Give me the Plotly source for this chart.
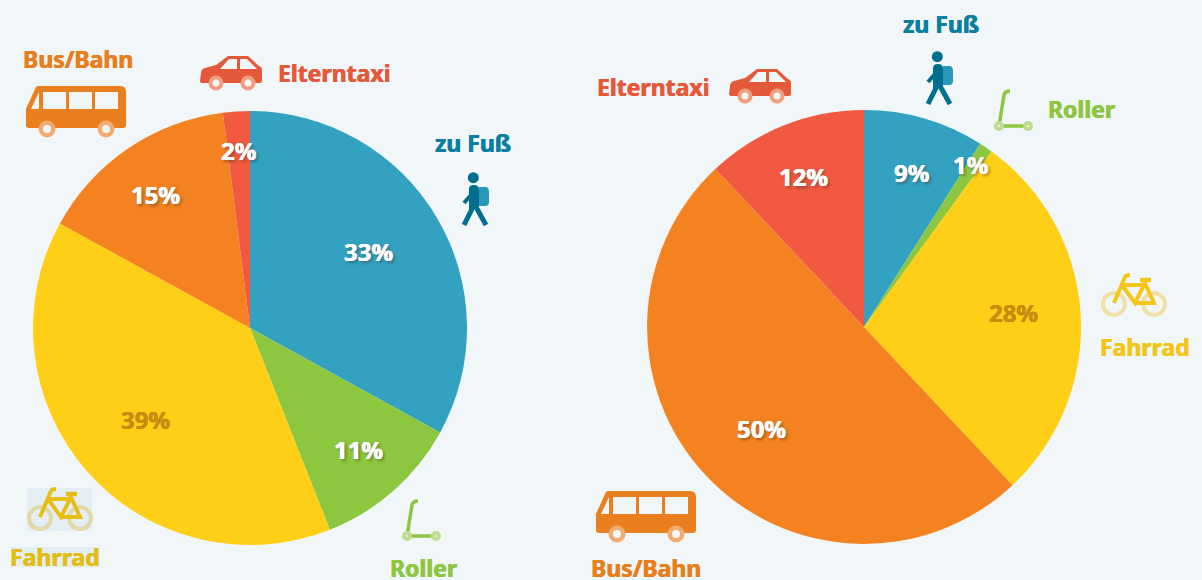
import re
import plotly.graph_objects as go

W, H = 1202, 580
BG = "#F1F6F9"
FONT = "Noto Sans"

categories = ["zu Fuß", "Roller", "Fahrrad", "Bus/Bahn", "Elterntaxi"]
values_left = [33, 11, 39, 15, 2]
values_right = [9, 1, 28, 50, 12]
slice_colors = ["#33A1C0", "#8DC73F", "#FFCE16", "#F58220", "#F15A40"]

PCT_WHITE = "#FFFFFF"
PCT_AMBER = "#C98A10"


def px(x):
    return x / W


def py(y):
    return 1 - y / H


def path(d, ox=0, oy=0):
    toks = re.findall(r"[MLQCZ]|-?\d+\.?\d*", d)
    out, is_x = [], True
    for t in toks:
        if t.isalpha():
            out.append(t)
            is_x = True
        else:
            v = float(t)
            out.append(f"{px(v + ox):.5f}" if is_x else f"{py(v + oy):.5f}")
            is_x = not is_x
    return " ".join(out)


shapes = []


def fill_path(d, color, ox=0, oy=0):
    shapes.append(dict(type="path", xref="paper", yref="paper", path=path(d, ox, oy),
                       fillcolor=color, line=dict(width=0), layer="above"))


def stroke_path(d, color, width, ox=0, oy=0):
    shapes.append(dict(type="path", xref="paper", yref="paper", path=path(d, ox, oy),
                       line=dict(color=color, width=width), fillcolor="rgba(0,0,0,0)", layer="above"))


def circle(cx, cy, r, fill=None, line=None, width=0):
    shapes.append(dict(type="circle", xref="paper", yref="paper",
                       x0=px(cx - r), x1=px(cx + r), y0=py(cy + r), y1=py(cy - r),
                       fillcolor=fill or "rgba(0,0,0,0)",
                       line=dict(color=line or "rgba(0,0,0,0)", width=width), layer="above"))


def rect(x0, y0, x1, y1, color):
    shapes.append(dict(type="rect", xref="paper", yref="paper", x0=px(x0), x1=px(x1),
                       y0=py(y1), y1=py(y0), fillcolor=color, line=dict(width=0), layer="above"))


def bus(ox, oy):
    c = "#E97F1E"
    fill_path("M 38 86 L 120 86 Q 126 86 126 92 L 126 125 Q 126 128 123 128 L 29 128 Q 26 128 26 125 L 26 109 L 35 89 Q 36 86 38 86 Z", c, ox, oy)
    for a, b in [(43, 66), (69, 92), (95, 118)]:
        fill_path(f"M {a} 92 L {b} 92 L {b} 109 L {a} 109 Z", BG, ox, oy)
    fill_path("M 31 109 L 39 92 L 39 109 Z", BG, ox, oy)
    for x in (47, 106):
        circle(x + ox, 129 + oy, 8.5, fill="#F0AB70")
        circle(x + ox, 129 + oy, 4, fill=BG)


def car(ox, oy):
    c = "#E5593B"
    fill_path("M 202 83 L 260 83 Q 262 83 262 81 L 262 70 Q 262 67 259 66 L 248 56 L 228 56 L 216 65 L 205 68 Q 201 69 201 73 L 200 81 Q 200 83 202 83 Z", c, ox, oy)
    fill_path("M 220 69 L 237 69 L 237 59 L 229 59 Z", BG, ox, oy)
    fill_path("M 240 59 L 247 59 L 257 69 L 240 69 Z", BG, ox, oy)
    for x in (216, 248):
        circle(x + ox, 83 + oy, 7.5, fill="#EE9F80")
        circle(x + ox, 83 + oy, 3.5, fill=BG)


def walker(ox, oy):
    c = "#006F8E"
    fill_path("M 479 187 L 485 187 Q 489 187 489 192 L 489 202 Q 489 206 485 206 L 479 206 Z", "#2A96B8", ox, oy)
    circle(473.3 + ox, 177.7 + oy, 5.5, fill=c)
    fill_path("M 469 189 Q 469 185 474 185 Q 479 185 479 190 L 479 209 L 469 209 Z", c, ox, oy)
    stroke_path("M 471 195 L 464 203", c, 4, ox, oy)
    stroke_path("M 473 207 L 464 225", c, 5, ox, oy)
    stroke_path("M 476 207 L 486 225", c, 5, ox, oy)


def scooter(ox, oy, c="#8DC63F"):
    stroke_path("M 418 501 Q 413 501 412 505 L 407 536 L 436 536", c, 3.5, ox, oy)
    for x in (407, 436):
        circle(x + ox, 536 + oy, 5, fill="#BEDC90")
        circle(x + ox, 536 + oy, 1.2, fill="#E4F0D0")


def bike(ox, oy, frame, wheel):
    circle(1114 + ox, 304 + oy, 11, line=wheel, width=4)
    circle(1154 + ox, 304 + oy, 11, line=wheel, width=4)
    stroke_path("M 1114 303 L 1125 277 Q 1126 275 1130 275", frame, 4, ox, oy)
    stroke_path("M 1122 285 L 1144 285 L 1135 303 L 1122 285", frame, 4, ox, oy)
    stroke_path("M 1135 303 L 1154 303 L 1144 281", frame, 4, ox, oy)
    stroke_path("M 1140 280 L 1151 280", frame, 4.5, ox, oy)


# backing boxes behind the left bike and its caption
rect(27, 488, 92, 531, "#E4EFF5")
rect(11, 547, 100, 567, "#E4EFF5")

bus(0, 0)
bus(570, 405)
car(0, 0)
car(529, 13)
walker(0, 0)
walker(464, -121)
scooter(0, 0)
scooter(592, -410)
bike(0, 0, "#F5C518", "#F0E0A8")
bike(-1074, 214, "#E6BE14", "#E2D8A8")

annotations = []


def heavy(color):
    return f"0.35px 0 0 {color}, -0.35px 0 0 {color}"


def text(x, y, s, color, size=23, shadow="none"):
    annotations.append(dict(x=px(x), y=py(y), xref="paper", yref="paper", text=s, showarrow=False,
                            xanchor="center", yanchor="middle",
                            font=dict(family=FONT, size=size, color=color, weight="bold", shadow=shadow)))


names_left = [(473, 142.5, "#0A7F9F"), (423, 567.5, "#8DC63F"), (55, 557, "#E3BC14"),
              (78, 59, "#E87F1E"), (335, 73, "#E5593B")]
names_right = [(941, 24, "#0A7F9F"), (1081, 109.5, "#8DC63F"), (1145, 347, "#F2C518"),
               (646, 567.5, "#E87F1E"), (653, 87, "#E5593B")]
for (x, y, c), s in zip(names_left, categories):
    text(x, y, s, c, shadow=heavy(c))
for (x, y, c), s in zip(names_right, categories):
    text(x, y, s, c, shadow=heavy(c))

pct_left = [(368.5, 251.5), (358.5, 449.5), (145, 419.5), (155.5, 194.5), (238, 150.5)]
pct_right = [(911.5, 172.5), (971, 164.5), (1013, 312), (761, 428.5), (803.5, 176.5)]

for positions, vals in ((pct_left, values_left), (pct_right, values_right)):
    for (x, y), v, cat in zip(positions, vals, categories):
        if cat == "Fahrrad":
            text(x, y, f"{v}%", PCT_AMBER, 24, heavy(PCT_AMBER))
        else:
            text(x, y, f"{v}%", PCT_WHITE, 24, f"{heavy(PCT_WHITE)}, 2px 2px 3px rgba(60,50,30,0.45)")


def pie(vals, x0, x1, y0, y1):
    return go.Pie(labels=categories, values=vals, sort=False, direction="clockwise", rotation=0,
                  textinfo="none", hoverinfo="label+percent",
                  marker=dict(colors=slice_colors, line=dict(width=0)),
                  domain=dict(x=[px(x0), px(x1)], y=[py(y1), py(y0)]), showlegend=False)


fig = go.Figure([pie(values_left, 33, 467, 111, 545), pie(values_right, 647, 1081, 110, 544)])
fig.update_layout(width=W, height=H, margin=dict(l=0, r=0, t=0, b=0), paper_bgcolor=BG,
                  plot_bgcolor=BG, shapes=shapes, annotations=annotations, showlegend=False,
                  font=dict(family=FONT))
fig.write_html("out.html", config=dict(displayModeBar=False),
               post_script="document.body.style.margin='0';document.body.style.background='" + BG + "';")
